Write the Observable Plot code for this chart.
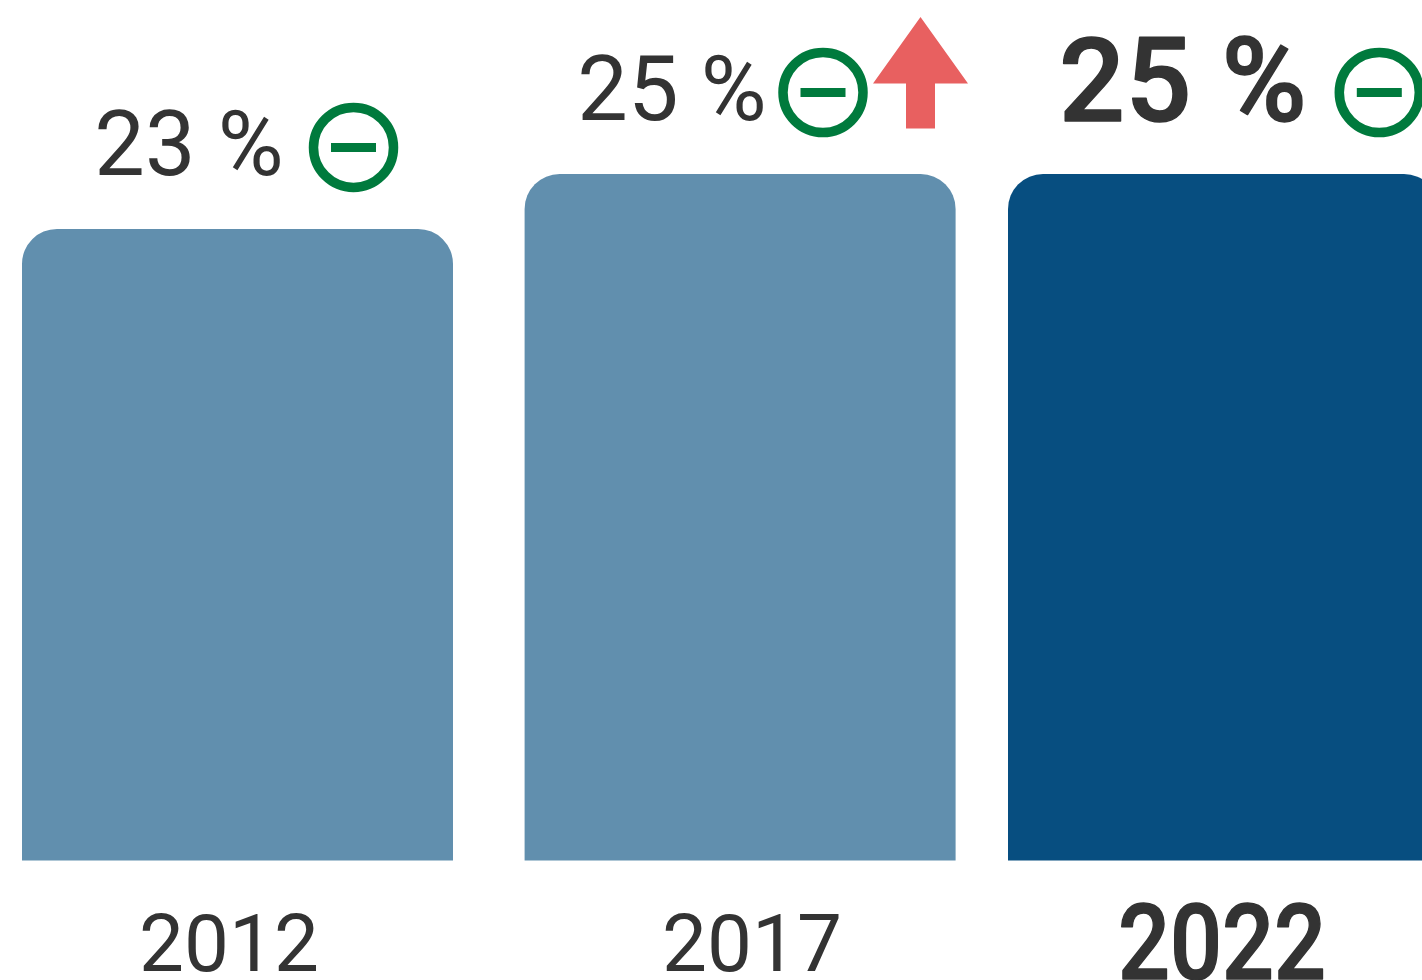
<!DOCTYPE html>
<html>
<head>
<meta charset="utf-8">
<style>
html,body{margin:0;padding:0;background:#fff;overflow:hidden;width:1422px;height:980px}
svg{display:block;overflow:hidden!important}
</style>
<script src="https://cdn.jsdelivr.net/npm/d3@7"></script>
<script src="https://cdn.jsdelivr.net/npm/@observablehq/plot@0.6"></script>
</head>
<body>
<div id="chart"></div>
<script>
const years = ["2012", "2017", "2022"];
const shares = [23, 25, 25];
const valueLabels = ["23 %", "25 %", "25 %"];
const barColors = ["#618fae", "#618fae", "#074e80"];
const trendArrow = [false, true, false];

const rows = years.map((year, i) => ({year, share: shares[i], label: valueLabels[i], arrow: trendArrow[i]}));
const ink = "#333333", green = "#007a3d", red = "#e86060";
const regular = {fontFamily: "Roboto", fontWeight: 400, fill: ink};
const heavy = {fontFamily: "Roboto", fontWeight: 500, fill: ink, stroke: ink, strokeWidth: 1.5};
const only = (y) => rows.filter((d) => d.year === y);

const minusGlyph = {draw(c) { c.moveTo(-22.5, -4.5); c.lineTo(22.5, -4.5); c.lineTo(22.5, 4.5); c.lineTo(-22.5, 4.5); c.closePath(); }};
const arrowGlyph = {draw(c) {
  c.moveTo(0, -76); c.lineTo(47.5, -9.5); c.lineTo(14.5, -9.5); c.lineTo(14.5, 35.5);
  c.lineTo(-14.5, 35.5); c.lineTo(-14.5, -9.5); c.lineTo(-47.5, -9.5); c.closePath();
}};
// fit a text mark's run to a measured width
const fitted = (len, adjust) => (index, scales, values, dims, ctx, next) => {
  const g = next(index, scales, values, dims, ctx);
  g.querySelectorAll("text").forEach((t) => { t.setAttribute("textLength", len); t.setAttribute("lengthAdjust", adjust); });
  return g;
};
const band = (year, dx) => Plot.barY(only(year), {x: "year", y: "share", fill: "year", dx, ry1: 0, rx1y2: 0, rx2y2: 0, rx1y1: 35, rx2y1: 35});
const icon = (year, dx) => [
  Plot.dot(only(year), {x: "year", y: "share", r: 40, dx, dy: -82, fill: "none", stroke: green, strokeWidth: 9.5}),
  Plot.dot(only(year), {x: "year", y: "share", dx, dy: -82, symbol: minusGlyph, fill: green, stroke: "none"})
];

const plot = Plot.plot({
  width: 1422, height: 980,
  marginTop: 0, marginRight: 0, marginBottom: 0, marginLeft: 0,
  x: {type: "band", domain: years, range: [22, 1439], paddingInner: 62 / 493, paddingOuter: 0, round: false, axis: null},
  y: {domain: [0, 25], range: [860.5, 174], axis: null},
  color: {domain: years, range: barColors},
  marks: [
    band("2012", 0), band("2017", 9.6), band("2022", 0),
    icon("2012", 115.5), icon("2017", 92), icon("2022", 155.3),
    Plot.dot(rows.filter((d) => d.arrow), {x: "year", y: "share", dx: 189.5, dy: -81.5, symbol: arrowGlyph, fill: red, stroke: "none"}),
    Plot.text(only("2012"), {x: "year", y: "share", text: "label", fontSize: 90, dx: -49, dy: -83, ...regular}),
    Plot.text(only("2017"), {x: "year", y: "share", text: "label", fontSize: 90, dx: -59, dy: -83, ...regular}),
    Plot.text(only("2022"), {x: "year", y: "share", text: "label", fontSize: 116, dx: -41, dy: -91, ...heavy, render: fitted(248, "spacing")}),
    Plot.text(only("2012"), {x: "year", y: () => 0, text: "year", fontSize: 80, dx: -9, dy: 84, ...regular}),
    Plot.text(only("2017"), {x: "year", y: () => 0, text: "year", fontSize: 80, dx: 21, dy: 84, ...regular}),
    Plot.text(only("2022"), {x: "year", y: () => 0, text: "year", fontSize: 106, dx: -2, dy: 84, ...heavy, render: fitted(208, "spacingAndGlyphs")})
  ]
});
document.getElementById("chart").append(plot);
</script>
</body>
</html>
